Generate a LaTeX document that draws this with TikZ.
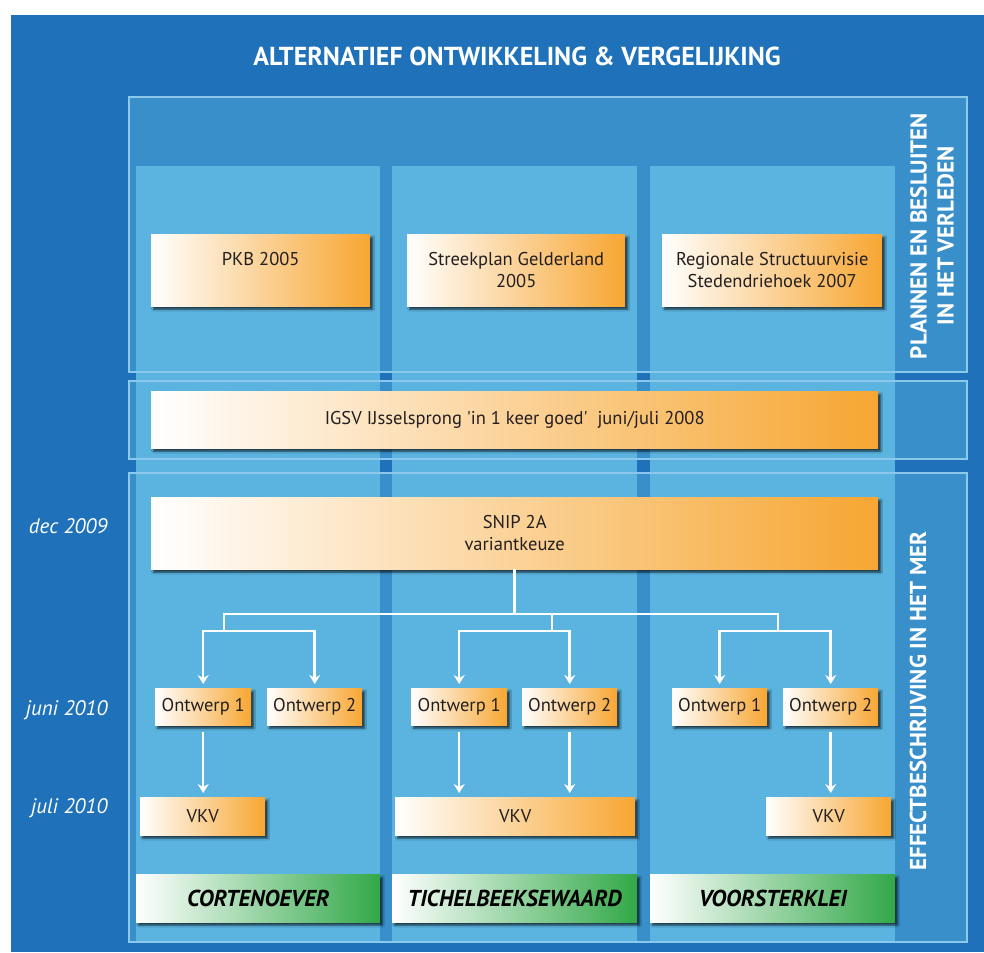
\documentclass[tikz,border=0pt]{standalone}
\usepackage{fontspec}
\setmainfont{PT Sans}
\usetikzlibrary{shadows,shadows.blur,arrows.meta}
\definecolor{bgdark}{RGB}{31,114,186}
\definecolor{panelc}{RGB}{57,143,201}
\definecolor{colc}{RGB}{91,180,224}
\definecolor{borderc}{RGB}{140,200,235}
\definecolor{orangec}{RGB}{247,166,50}
\definecolor{greenc}{RGB}{50,168,72}
\definecolor{textc}{RGB}{35,31,32}
\begin{document}
\begin{tikzpicture}[x=1pt,y=-1pt,
  shad/.style={blur shadow={shadow xshift=2.5pt,shadow yshift=-3pt,shadow blur steps=4,shadow blur radius=2pt,shadow opacity=70}},
  obox/.style={draw=none, left color=white, right color=orangec, anchor=north west, inner sep=0pt,
    align=center, text=textc, font=\fontsize{18.5}{22}\selectfont, shad},
  gbox/.style={draw=none, left color=white, right color=greenc, anchor=north west, inner sep=0pt,
    align=center, text=black, font=\fontsize{23}{26}\selectfont\bfseries\itshape,
    minimum height=48pt, shad},
  wline/.style={draw=white, line width=2.5pt},
  warr/.style={wline, -{Stealth[length=9pt,width=11pt,inset=3pt]}, shorten >=4pt},
  datelbl/.style={text=white, font=\fontsize{21}{24}\selectfont\itshape, anchor=east},
  vlbl/.style={text=white, font=\fontsize{23}{27}\selectfont\bfseries, rotate=90, align=center},
  panelborder/.style={draw=borderc, line width=1.2pt},
]
\useasboundingbox (0,0) rectangle (984,952);
\fill[white] (0,0) rectangle (984,952);
\fill[bgdark] (11,15) rectangle (984,952);
% panels
\fill[panelc] (129,97) rectangle (967,372);
\fill[panelc] (129,381) rectangle (967,459);
\fill[panelc] (129,473) rectangle (967,942);
% columns
\fill[colc] (136,166) rectangle (380,941);
\fill[colc] (392,166) rectangle (637,941);
\fill[colc] (650,166) rectangle (895,941);
% panel borders
\draw[panelborder] (129,97) rectangle (967,372);
\draw[panelborder] (129,381) rectangle (967,459);
\draw[panelborder] (129,473) rectangle (967,942);

% title
\node[text=white, font=\fontsize{26}{30}\selectfont\bfseries] (title) at (517,56)
  {ALTERNATIEF ONTWIKKELING \& VERGELIJKING};

% vertical labels
\node[vlbl] (vl1) at (932,236) {PLANNEN EN BESLUITEN\\IN HET VERLEDEN};
\node[vlbl] (vl2) at (918,701) {EFFECTBESCHRIJVING IN HET MER};

% date labels
\node[datelbl] (d1) at (111,526) {dec 2009};
\node[datelbl] (d2) at (111,710) {juni 2010};
\node[datelbl] (d3) at (111,808) {juli 2010};

% top boxes
\node[obox, minimum width=219pt, minimum height=72pt] (pkb) at (151,234) {PKB 2005\\~};
\node[obox, minimum width=218pt, minimum height=72pt] (streek) at (407,234) {Streekplan Gelderland\\2005};
\node[obox, minimum width=220pt, minimum height=72pt] (regio) at (662,234) {Regionale Structuurvisie\\Stedendriehoek 2007};
\node[obox, minimum width=727pt, minimum height=57pt] (igsv) at (151,391) {IGSV IJsselsprong \textquotesingle in 1 keer goed\textquotesingle\ \ juni/juli 2008};
\node[obox, minimum width=727pt, minimum height=72pt] (snip) at (151,497) {SNIP 2A\\variantkeuze};

% ontwerp boxes
\node[obox, minimum width=96pt, minimum height=37pt] (o11) at (155,688) {Ontwerp 1};
\node[obox, minimum width=95pt, minimum height=37pt] (o12) at (267,688) {Ontwerp 2};
\node[obox, minimum width=96pt, minimum height=37pt] (o21) at (411,688) {Ontwerp 1};
\node[obox, minimum width=95pt, minimum height=37pt] (o22) at (522,688) {Ontwerp 2};
\node[obox, minimum width=95pt, minimum height=37pt] (o31) at (672,688) {Ontwerp 1};
\node[obox, minimum width=95pt, minimum height=37pt] (o32) at (783,688) {Ontwerp 2};

% VKV boxes
\node[obox, minimum width=125pt, minimum height=38pt] (v1) at (140,797) {VKV};
\node[obox, minimum width=240pt, minimum height=38pt] (v2) at (395,797) {VKV};
\node[obox, minimum width=125pt, minimum height=38pt] (v3) at (766,797) {VKV};

% green boxes
\node[gbox, minimum width=244pt] (g1) at (136,874) {CORTENOEVER};
\node[gbox, minimum width=245pt] (g2) at (392,874) {TICHELBEEKSEWAARD};
\node[gbox, minimum width=245pt] (g3) at (650,874) {VOORSTERKLEI};

% connectors
\coordinate (hl) at (224,614);
\coordinate (hr) at (778,614);
\coordinate (j2) at (552,614);
\coordinate (b1) at (224,631);
\coordinate (b2) at (552,631);
\coordinate (b3) at (778,631);
\draw[wline] (snip.south) -- (snip.south |- hl);
\draw[wline, line cap=rect] (hl) -- (hr);
\draw[wline] (hl) -- (b1);
\draw[wline] (j2) -- (b2);
\draw[wline] (hr) -- (b3);
\draw[warr] (b1) -| (o11.north);
\draw[warr] (b1) -| (o12.north);
\draw[warr] (b2) -| (o21.north);
\draw[warr] (b2) -| (o22.north);
\draw[warr] (b3) -| (o31.north);
\draw[warr] (b3) -| (o32.north);

\draw[warr, shorten <=7pt] (o11.south) -- (o11.south |- v1.north);
\draw[warr, shorten <=7pt] (o21.south) -- (o21.south |- v2.north);
\draw[warr, shorten <=7pt] (o22.south) -- (o22.south |- v2.north);
\draw[warr, shorten <=7pt] (o32.south) -- (o32.south |- v3.north);
\end{tikzpicture}
\end{document}
